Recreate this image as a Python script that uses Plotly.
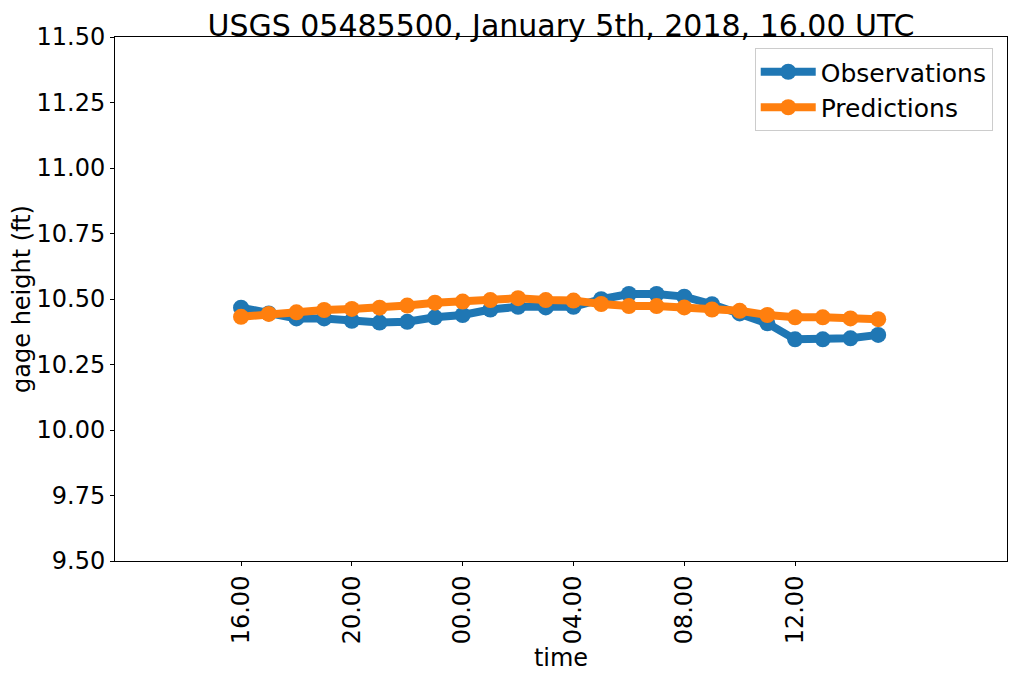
import plotly.graph_objects as go

# hours after 16.00 UTC
hours = list(range(24))
tick_vals = [0, 4, 8, 12, 16, 20]
tick_text = ["16.00", "20.00", "00.00", "04.00", "08.00", "12.00"]

observations = [10.467, 10.445, 10.426, 10.426, 10.417, 10.41, 10.413, 10.43,
                10.439, 10.46, 10.47, 10.468, 10.47, 10.499, 10.519, 10.519,
                10.509, 10.48, 10.445, 10.407, 10.346, 10.346, 10.35, 10.363]
predictions = [10.432, 10.443, 10.449, 10.458, 10.462, 10.467, 10.475, 10.486,
               10.49, 10.496, 10.503, 10.496, 10.494, 10.481, 10.473, 10.473,
               10.468, 10.46, 10.455, 10.439, 10.43, 10.43, 10.426, 10.423]

font = "DejaVu Sans"
fs = 24

fig = go.Figure()
fig.add_trace(go.Scatter(x=hours, y=observations, mode="lines+markers", name="Observations",
                         line=dict(color="#1f77b4", width=8),
                         marker=dict(color="#1f77b4", size=16)))
fig.add_trace(go.Scatter(x=hours, y=predictions, mode="lines+markers", name="Predictions",
                         line=dict(color="#ff7f0e", width=8),
                         marker=dict(color="#ff7f0e", size=16)))

axis_common = dict(showline=True, linecolor="black", linewidth=1, mirror=True,
                   showgrid=False, zeroline=False, ticks="outside", ticklen=4,
                   tickcolor="black", automargin=False,
                   tickfont=dict(family=font, size=fs, color="black"))

# page body adds an 8px margin, so the figure is a bit smaller than the window
fig.update_layout(
    width=1009, height=667,
    margin=dict(l=107, r=10, t=29, b=114),
    paper_bgcolor="white", plot_bgcolor="white",
    font=dict(family=font, color="black"),
    title=dict(text="USGS 05485500, January 5th, 2018, 16.00 UTC", xref="paper", x=0.5,
               xanchor="center", y=0.99, yanchor="top",
               font=dict(family=font, size=30, color="black")),
    showlegend=True,
    legend=dict(x=0.984, y=0.979, xanchor="right", yanchor="top",
                bordercolor="#cccccc", borderwidth=1, bgcolor="white",
                itemwidth=55, tracegroupgap=4,
                font=dict(family=font, size=25, color="black")),
)
fig.update_xaxes(range=[-4.55, 27.65], tickvals=tick_vals, ticktext=tick_text, tickangle=-90,
                 title=dict(text="time", font=dict(family=font, size=fs, color="black"), standoff=2),
                 **axis_common)
fig.update_yaxes(range=[9.5, 11.5], tickvals=[9.5, 9.75, 10.0, 10.25, 10.5, 10.75, 11.0, 11.25, 11.5],
                 tickformat=".2f",
                 title=dict(text="gage height (ft)", font=dict(family=font, size=fs, color="black"), standoff=4),
                 **axis_common)

fig.write_html("out.html")
